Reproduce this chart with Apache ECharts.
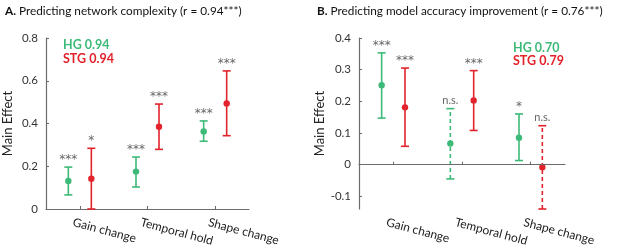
<!DOCTYPE html>
<html>
<head>
<meta charset="utf-8">
<script src="https://cdn.jsdelivr.net/npm/echarts@6/dist/echarts.min.js"></script>
<style>
  html, body { margin: 0; padding: 0; background: #fff; }
  #chart { width: 617px; height: 250px; }
</style>
</head>
<body>
<div id="chart"></div>
<script>
// categories along x
const categories = ['Gain change', 'Temporal hold', 'Shape change'];

// panel A: predicting network complexity
const aHgMean = [0.131, 0.175, 0.363];
const aHgLow = [0.066, 0.103, 0.317];
const aHgHigh = [0.196, 0.243, 0.412];
const aHgSig = ['***', '***', '***'];
const aStgMean = [0.142, 0.385, 0.494];
const aStgLow = [0.0, 0.279, 0.343];
const aStgHigh = [0.284, 0.491, 0.646];
const aStgSig = ['*', '***', '***'];

// panel B: predicting model accuracy improvement
const bHgMean = [0.251, 0.067, 0.085];
const bHgLow = [0.147, -0.045, 0.013];
const bHgHigh = [0.353, 0.177, 0.160];
const bHgSig = ['***', 'n.s.', '*'];
const bStgMean = [0.181, 0.203, -0.008];
const bStgLow = [0.058, 0.108, -0.14];
const bStgHigh = [0.305, 0.297, 0.123];
const bStgSig = ['***', '***', 'n.s.'];

const aTicks = [0, 0.2, 0.4, 0.6, 0.8];
const bTicks = [-0.1, 0, 0.1, 0.2, 0.3, 0.4];

const GREEN = '#3dba78';
const RED = '#e2232c';
const AXIS = '#6b6b6b';
const FONT = 'Lato, "Noto Sans", sans-serif';

function rows(mean, low, high, sig, offset) {
  return mean.map((m, i) => [i + 1 + offset, m, low[i], high[i], sig[i]]);
}

function errorBars(color) {
  return function (params, api) {
    const x = api.value(0);
    const mid = api.coord([x, api.value(1)]);
    const lo = api.coord([x, api.value(2)]);
    const hi = api.coord([x, api.value(3)]);
    const sig = api.value(4);
    const dashed = sig === 'n.s.';
    const style = { stroke: color, lineWidth: 1.6, lineDash: dashed ? [4, 3] : null };
    const cap = 4;
    const stars = sig !== 'n.s.';
    return {
      type: 'group',
      children: [
        { type: 'line', shape: { x1: lo[0], y1: lo[1], x2: hi[0], y2: hi[1] }, style: style },
        { type: 'line', shape: { x1: hi[0] - cap, y1: hi[1], x2: hi[0] + cap, y2: hi[1] }, style: { stroke: color, lineWidth: 1.6 } },
        { type: 'line', shape: { x1: lo[0] - cap, y1: lo[1], x2: lo[0] + cap, y2: lo[1] }, style: { stroke: color, lineWidth: 1.6 } },
        { type: 'circle', shape: { cx: mid[0], cy: mid[1], r: 3.2 }, style: { fill: color } },
        {
          type: 'text',
          x: hi[0], y: hi[1] - (stars ? 1 : 3),
          style: {
            text: sig, fill: '#666',
            font: stars ? '12px "DejaVu Sans", sans-serif' : '11px ' + FONT,
            align: 'center', verticalAlign: 'bottom'
          }
        }
      ]
    };
  };
}

function xAxis(idx) {
  return {
    gridIndex: idx, type: 'value', min: 0.5, max: 3.5,
    axisLine: { lineStyle: { color: AXIS, width: 1.2 } },
    axisTick: { inside: true, length: 3, lineStyle: { color: AXIS }, customValues: [1, 2, 3] },
    splitLine: { show: false },
    axisLabel: {
      // labels sit a little left of each tick, as in the original
      customValues: [0.9, 1.9, 2.9], rotate: -15, margin: 13,
      color: '#222', fontSize: 12, fontFamily: FONT,
      formatter: (v) => categories[Math.round(v) - 1] || ''
    }
  };
}

function yAxis(idx, min, max, ticks) {
  return {
    gridIndex: idx, type: 'value', min: min, max: max,
    name: 'Main Effect', nameLocation: 'middle', nameGap: 32,
    nameTextStyle: { color: '#222', fontSize: 13, fontFamily: FONT },
    axisLine: { show: true, lineStyle: { color: AXIS, width: 1.2 } },
    axisTick: { show: true, inside: true, length: 3, lineStyle: { color: AXIS }, customValues: ticks },
    splitLine: { show: false },
    axisLabel: {
      customValues: ticks, color: '#333', fontSize: 11.5, fontFamily: FONT, margin: 8,
      formatter: (v) => String(Math.round(v * 10) / 10)
    }
  };
}

function series(idx, data, color) {
  return {
    type: 'custom', xAxisIndex: idx, yAxisIndex: idx,
    renderItem: errorBars(color), data: data, clip: false, z: 3
  };
}

const chart = echarts.init(document.getElementById('chart'), null, { renderer: 'canvas' });

const titleStyle = {
  rich: { b: { fontWeight: 'bold', fontSize: 11.8, fontFamily: FONT, color: '#111' } },
  fontWeight: 'normal', fontSize: 11.8, fontFamily: FONT, color: '#111'
};

const option = {
  backgroundColor: '#fff',
  animation: false,
  title: [
    { text: '{b|A.} Predicting network complexity (r = 0.94***)', left: 0, top: 0, textStyle: titleStyle },
    { text: '{b|B.} Predicting model accuracy improvement (r = 0.76***)', left: 312, top: 0, textStyle: titleStyle }
  ],
  grid: [
    { left: 45, top: 38, right: 368, bottom: 41 },
    { left: 359, top: 38, right: 52, bottom: 41 }
  ],
  xAxis: [xAxis(0), xAxis(1)],
  yAxis: [yAxis(0, 0, 0.8, aTicks), yAxis(1, -0.14, 0.4, bTicks)],
  graphic: [
    { type: 'text', left: 63, top: 38, style: { text: 'HG 0.94', fill: GREEN, font: 'bold 12.5px ' + FONT } },
    { type: 'text', left: 63, top: 52, style: { text: 'STG 0.94', fill: RED, font: 'bold 12.5px ' + FONT } },
    { type: 'text', left: 513, top: 41, style: { text: 'HG 0.70', fill: GREEN, font: 'bold 12.5px ' + FONT } },
    { type: 'text', left: 513, top: 54, style: { text: 'STG 0.79', fill: RED, font: 'bold 12.5px ' + FONT } }
  ],
  series: [
    series(0, rows(aHgMean, aHgLow, aHgHigh, aHgSig, -0.17), GREEN),
    series(0, rows(aStgMean, aStgLow, aStgHigh, aStgSig, 0.17), RED),
    {
      type: 'line', xAxisIndex: 1, yAxisIndex: 1, data: [], symbol: 'none',
      markLine: {
        silent: true, symbol: 'none', label: { show: false },
        lineStyle: { color: AXIS, type: 'solid', width: 1.2 },
        data: [{ yAxis: 0 }]
      }
    },
    series(1, rows(bHgMean, bHgLow, bHgHigh, bHgSig, -0.17), GREEN),
    series(1, rows(bStgMean, bStgLow, bStgHigh, bStgSig, 0.17), RED)
  ]
};

chart.setOption(option);
window.addEventListener('resize', () => {
  chart.resize();
});
</script>
</body>
</html>
